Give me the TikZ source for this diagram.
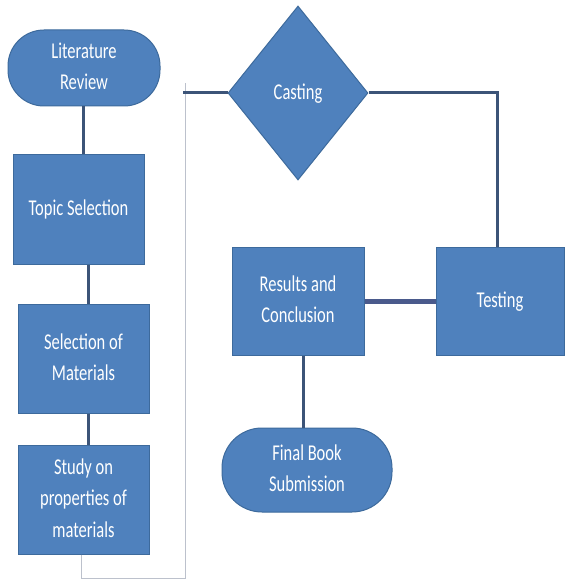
\documentclass[tikz,border=0pt]{standalone}
\usepackage{fontspec}
\usepackage{graphicx}
\setmainfont{Carlito}
\usetikzlibrary{shapes.geometric}
\definecolor{boxfill}{HTML}{4F81BD}
\definecolor{boxdraw}{HTML}{3D6A9C}
\definecolor{linec}{HTML}{3C5478}
\definecolor{linec2}{HTML}{4A5A8C}
\definecolor{thinc}{HTML}{BCC1CC}
\newcommand\tx[1]{\scalebox{0.97}[1.33]{\begin{tabular}{@{}c@{}}#1\end{tabular}}}
\begin{document}
\begin{tikzpicture}[x=1pt,y=-1pt,
  base/.style={fill=boxfill,draw=boxdraw,line width=1pt,text=white,inner sep=0pt,
    font=\fontsize{17}{23.5}\selectfont},
  procbox/.style={base,rectangle,minimum width=131pt,minimum height=109pt},
  termbox/.style={base,rectangle,rounded corners=36pt},
  decbox/.style={base,diamond,minimum width=140pt,minimum height=174pt},
  conn/.style={draw=linec,line width=3pt},
  thin/.style={draw=thinc,line width=1pt}]
\useasboundingbox (0,0) rectangle (565,580);
\fill[white] (0,0) rectangle (565,580);

\node[termbox,minimum width=152pt,minimum height=76pt] (lit) at (84,68) {\tx{Literature\\Review}};
\node[procbox] (topic) at (78.5,209.5) {\tx{Topic Selection}};
\node[procbox] (sel) at (83.5,358.5) {\tx{Selection of\\Materials}};
\node[procbox] (study) at (83.5,499.5) {\tx{Study on\\properties of\\materials}};
\node[decbox] (cast) at (298,93) {\tx{Casting}};
\node[procbox,minimum width=132pt,minimum height=108pt] (res) at (298,301) {\tx{Results and\\Conclusion}};
\node[procbox,minimum width=128pt,minimum height=108pt] (test) at (500,301) {\tx{Testing}};
\node[termbox,rounded corners=40pt,minimum width=170pt,minimum height=84pt] (final) at (307,470) {\tx{Final Book\\Submission}};

\coordinate (c1) at (83,0);
\coordinate (c2) at (88,0);
\coordinate (tb1) at (81,578);
\coordinate (tb2) at (185,578);
\coordinate (tt) at (185,83);
\coordinate (th) at (183,93);
\coordinate (tr) at (497,93);

\draw[conn] (c1 |- lit.south) -- (c1 |- topic.north);
\draw[conn] (c2 |- topic.south) -- (c2 |- sel.north);
\draw[conn] (c2 |- sel.south) -- (c2 |- study.north);
\draw[thin] (tb1 |- study.south) -- (tb1) -- (tb2) -- (tt);
\draw[conn] (th) -- (cast.west);
\draw[conn] (cast.east) -- (tr) -- (tr |- test.north);
\draw[draw=linec2,line width=5pt] (res.east) -- (test.west);
\draw[conn] ([xshift=5pt]res.south) -- ([xshift=5pt]res.south |- final.north);
\end{tikzpicture}
\end{document}
